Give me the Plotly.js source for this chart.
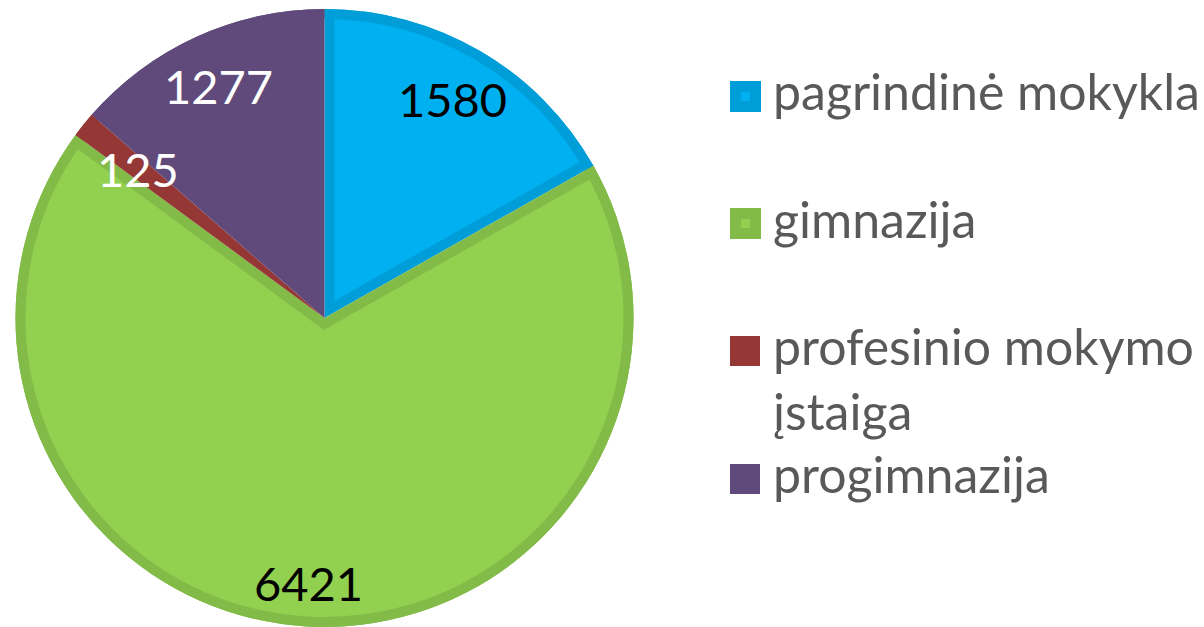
<!DOCTYPE html>
<html><head><meta charset="utf-8">
<script src="https://cdn.plot.ly/plotly-3.0.1.min.js"></script>
<style>html,body{margin:0;padding:0;overflow:hidden;background:#fff}</style>
</head><body><div id="chart" style="width:1204px;height:700px"></div>
<script>
// ---- data ----
const categories = ['pagrindinė mokykla', 'gimnazija', 'profesinio mokymo<br>įstaiga', 'progimnazija'];
const values = [1580, 6421, 125, 1277];
const fillColors = ['#00B0F0', '#92D050', '#953735', '#604A7B'];
const edgeColors = ['#009ED8', '#83BB48', '#953735', '#604A7B'];
const labelColors = ['#000000', '#000000', '#FFFFFF', '#FFFFFF'];

// ---- layout constants ----
const W = 1204, H = 700;
const CX = 324.5, CY = 318, R = 309, BW = 10;
const FONT = 'Lato, "Open Sans", sans-serif';
const labelRadius = [254, 265, 239, 255];
const legendTop = [81, 208, 336, 464];
const legendBaseline = [110, 238, 365, 493];
const TRANSPARENT = 'rgba(0,0,0,0)';

const total = values.reduce((a, b) => a + b, 0);
const cum = []; let acc = 0; values.forEach(v => { cum.push(acc); acc += v; });
const deg = v => v / total * 360;
const rad = a => a * Math.PI / 180;
const px = x => x / W, py = y => 1 - y / H;
function domainFor(cx, cy, r) {
  return { x: [(cx - r) / W, (cx + r) / W], y: [(H - cy - r) / H, (H - cy + r) / H] };
}
const common = { type: 'pie', sort: false, direction: 'clockwise', rotation: 0,
  textinfo: 'none', hoverinfo: 'none', showlegend: false };

// base pie (border colours)
const traces = [];
traces.push(Object.assign({}, common, {
  values: values, labels: categories,
  marker: { colors: edgeColors }, domain: domainFor(CX, CY, R)
}));

// inset fills: wedge with apex moved inward so edges sit BW px inside the slice
let pieceNo = 0;
function insetPiece(idx, a1, a2, r) {
  const start = deg(cum[idx]), span = deg(values[idx]);
  const half = span / 2, bis = start + half;
  const d = BW / Math.sin(rad(half));
  const cx = CX + d * Math.sin(rad(bis)), cy = CY - d * Math.cos(rad(bis));
  const s = (bis + a1) / 360 * total, e = (bis + a2) / 360 * total;
  pieceNo++;
  traces.push(Object.assign({}, common, {
    values: [s, e - s, total - e],
    labels: ['p' + pieceNo + 'a', 'p' + pieceNo + 'b', 'p' + pieceNo + 'c'],
    marker: { colors: [TRANSPARENT, fillColors[idx], TRANSPARENT] },
    domain: domainFor(cx, cy, r)
  }));
}
const hb = deg(values[0]) / 2;
insetPiece(0, -hb, hb, 285);
const hg = deg(values[1]) / 2;
insetPiece(1, -hg, -93, 307);
insetPiece(1, -97, -58, 301.5);
insetPiece(1, -62, 62, 295);
insetPiece(1, 58, 97, 301.5);
insetPiece(1, 93, hg, 307);

// outer ring border
traces.push(Object.assign({}, common, {
  values: values, labels: categories, hole: (R - BW) / R,
  marker: { colors: edgeColors }, domain: domainFor(CX, CY, R)
}));

// ---- value labels ----
const annotations = [];
values.forEach((v, i) => {
  const a = rad(deg(cum[i] + v / 2));
  annotations.push({
    xref: 'paper', yref: 'paper', showarrow: false,
    x: px(CX + labelRadius[i] * Math.sin(a)), y: py(CY - labelRadius[i] * Math.cos(a)),
    xanchor: 'center', yanchor: 'middle', text: String(v),
    font: { family: FONT, size: 47, color: labelColors[i] }
  });
});

// ---- legend ----
const LS = 50;
const shapes = [];
categories.forEach((c, i) => {
  const t = legendTop[i];
  if (edgeColors[i] !== fillColors[i]) {
    shapes.push({ type: 'rect', xref: 'paper', yref: 'paper',
      x0: px(735.5), x1: px(755.5), y0: py(t + 5.5), y1: py(t + 25.5),
      fillcolor: fillColors[i], line: { color: edgeColors[i], width: 11 } });
  } else {
    shapes.push({ type: 'rect', xref: 'paper', yref: 'paper',
      x0: px(730), x1: px(760), y0: py(t), y1: py(t + 30),
      fillcolor: fillColors[i], line: { width: 0 } });
  }
  const lines = c.split('<br>').length;
  const yc = lines === 1 ? legendBaseline[i] - 0.387 * LS : legendBaseline[i] + 0.263 * LS;
  annotations.push({
    xref: 'paper', yref: 'paper', showarrow: false, align: 'left',
    x: px(771), y: py(yc), xanchor: 'left', yanchor: 'middle', text: c,
    font: { family: FONT, size: LS, color: '#595959' }
  });
});

Plotly.newPlot('chart', traces, {
  width: W, height: H, margin: { l: 0, r: 0, t: 0, b: 0 },
  paper_bgcolor: '#ffffff', plot_bgcolor: '#ffffff',
  showlegend: false, annotations: annotations, shapes: shapes
}, { staticPlot: true });
</script>
</body></html>
